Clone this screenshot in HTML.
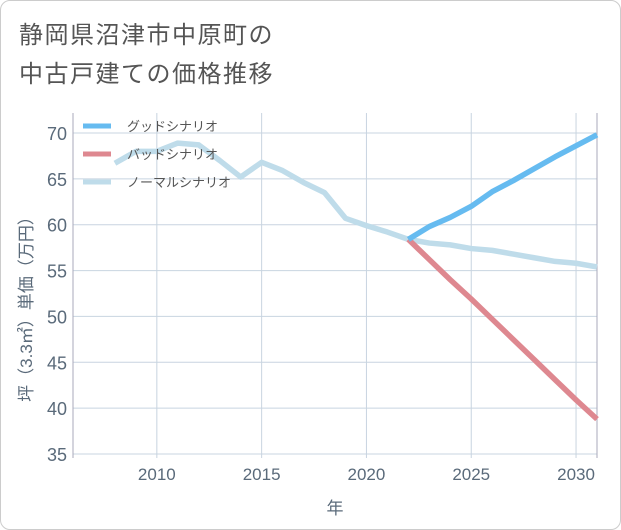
<!DOCTYPE html>
<html><head><meta charset="utf-8"><style>
body{margin:0;background:#fff;}
#wrap{position:relative;width:619px;height:528px;border:1px solid #ccc;border-radius:10px;overflow:hidden;background:#fff;font-family:"Liberation Sans","Noto Sans CJK JP",sans-serif;}
.t{position:absolute;left:18px;font-size:24px;color:#555;letter-spacing:1.5px;}
</style></head><body>
<div id="wrap">
<div class="t" style="top:14px">静岡県沼津市中原町の</div>
<div class="t" style="top:53px">中古戸建ての価格推移</div>
<svg id="c" width="621" height="530" style="position:absolute;left:-1px;top:-1px"></svg>
</div>
<script>
const years=[2008,2009,2010,2011,2012,2013,2014,2015,2016,2017,2018,2019,2020,2021,2022,2023,2024,2025,2026,2027,2028,2029,2030,2031];
const normal=[66.7,68.0,68.0,68.9,68.7,67.0,65.2,66.8,65.9,64.6,63.5,60.7,59.9,59.2,58.4,58.0,57.8,57.4,57.2,56.8,56.4,56.0,55.8,55.4];
const goodYears=[2022,2023,2024,2025,2026,2027,2028,2029,2030,2031];
const good=[58.4,59.8,60.8,62.0,63.6,64.8,66.1,67.4,68.6,69.8];
const bad=[58.4,56.2,54.0,51.9,49.7,47.5,45.3,43.1,40.9,38.8];
const yTicks=[35,40,45,50,55,60,65,70];
const xTicks=[2010,2015,2020,2025,2030];
const X0=73,X1=597,Y0=113,Y1=458;
const xs=v=>X0+(v-2006)*(X1-X0)/25;
const ys=v=>454-(v-35)*(454-133)/35;
const svg=document.getElementById('c');const NS='http://www.w3.org/2000/svg';
function mk(t,a){const e=document.createElementNS(NS,t);for(const k in a)e.setAttribute(k,a[k]);svg.appendChild(e);return e;}
for(const v of yTicks){const l=mk('line',{x1:X0,x2:X1,y1:ys(v),y2:ys(v),stroke:'#c8d4e0','stroke-width':1});

const t=mk('text',{x:X0-6,y:ys(v)+7,'text-anchor':'end','font-size':18,fill:'#5a6a7a'});t.textContent=v;
}
for(const v of xTicks){const l=mk('line',{x1:xs(v),x2:xs(v),y1:Y0,y2:Y1,stroke:'#c8d4e0','stroke-width':1});

const t=mk('text',{x:xs(v),y:480,'text-anchor':'middle','font-size':17,fill:'#5a6a7a'});t.textContent=v;
}
const ax=mk('line',{x1:X0,x2:X0,y1:Y0,y2:Y1,stroke:'#aab','stroke-width':1});

const ax2=mk('line',{x1:X1,x2:X1,y1:Y0,y2:Y1,stroke:'#aab','stroke-width':1});

function line(xv,yv,col,name){const p=mk('polyline',{points:xv.map((x,i)=>xs(x)+','+ys(yv[i])).join(' '),fill:'none',stroke:col,'stroke-width':5.5,'stroke-linejoin':'round'});
}
line(years,normal,'#bfdcea','normal-scenario-line');
line(goodYears,bad,'#de8890','bad-scenario-line');
line(goodYears,good,'#66bbf0','good-scenario-line');
const leg=[['グッドシナリオ','#66bbf0'],['バッドシナリオ','#de8890'],['ノーマルシナリオ','#bfdcea']];
leg.forEach((l,i)=>{const y=126+i*28;
const r=mk('line',{x1:83,x2:111,y1:y,y2:y,stroke:l[1],'stroke-width':5});

const t=mk('text',{x:127,y:y+5,'font-size':13,fill:'#555'});t.textContent=l[0];
});
const xt=mk('text',{x:335,y:514,'text-anchor':'middle','font-size':17,fill:'#5a6a7a'});xt.textContent='年';

const yt=mk('text',{x:0,y:0,'text-anchor':'middle','font-size':17,fill:'#5a6a7a',transform:'translate(32,305) rotate(-90)'});yt.textContent='坪（3.3㎡）単価（万円）';

</script>
</body></html>
